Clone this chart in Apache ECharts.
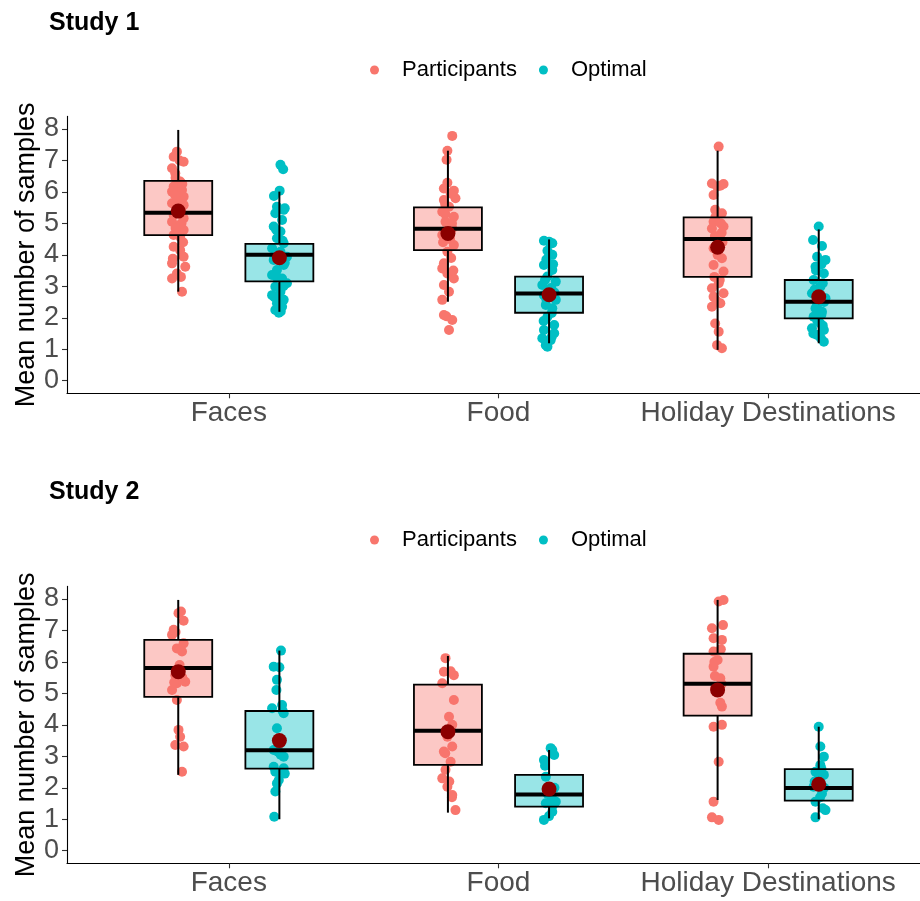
<!DOCTYPE html>
<html>
<head>
<meta charset="utf-8">
<script src="https://cdn.jsdelivr.net/npm/echarts@6/dist/echarts.min.js"></script>
<style>
html,body{margin:0;padding:0;background:#fff;}
#chart{width:920px;height:901px;}
</style>
</head>
<body>
<div id="chart"></div>
<script>
// ---------- DATA ----------
const categories = ["Faces", "Food", "Holiday Destinations"];
const groups = ["Participants", "Optimal"];
const studyTitles = ["Study 1", "Study 2"];
const yTicks = [0, 1, 2, 3, 4, 5, 6, 7, 8];
const yAxisTitle = "Mean number of samples";

// box stats per category: [lower whisker, Q1, median, Q3, upper whisker]
const s1BoxParticipants = [[2.83, 4.63, 5.34, 6.35, 7.97], [2.51, 4.15, 4.83, 5.51, 7.31], [0.98, 3.30, 4.50, 5.19, 7.31]];
const s1BoxOptimal      = [[2.19, 3.16, 4.00, 4.35, 6.01], [1.19, 2.16, 2.77, 3.31, 4.49], [1.19, 1.98, 2.51, 3.20, 4.81]];
const s2BoxParticipants = [[2.41, 4.89, 5.81, 6.70, 7.97], [1.21, 2.73, 3.81, 5.28, 6.19], [1.61, 4.29, 5.31, 6.26, 7.97]];
const s2BoxOptimal      = [[1.00, 2.61, 3.19, 4.44, 6.36], [1.03, 1.40, 1.79, 2.41, 3.20], [1.00, 1.59, 1.99, 2.59, 3.94]];

// means per category
const s1MeanParticipants = [5.39, 4.68, 4.24];
const s1MeanOptimal      = [3.91, 2.73, 2.67];
const s2MeanParticipants = [5.69, 3.78, 5.11];
const s2MeanOptimal      = [3.50, 1.96, 2.11];

// individual points: [horizontal jitter (category units), value]
const s1FacesP = [[-0.005,7.28],[-0.017,7.12],[0.02,6.96],[-0.023,6.75],[-0.011,6.59],[0.007,6.33],[-0.017,6.17],[0.014,6.06],[-0.023,6.01],[0.02,5.85],[-0.005,5.74],[-0.023,5.64],[0.02,5.58],[0.007,5.43],[-0.017,5.27],[0.02,5.16],[-0.023,5.05],[0.001,4.9],[0.02,4.79],[-0.017,4.63],[0.007,4.58],[-0.017,4.26],[0.007,4.15],[0.02,3.94],[-0.023,3.73],[0.026,3.62],[-0.005,3.41],[-0.023,3.25],[0.014,2.83],[-0.01,6.45],[0.015,6.25],[0.0,6.0],[-0.012,5.9],[0.01,5.5],[-0.008,5.35],[0.012,5.0],[-0.01,4.85],[0.018,4.4],[-0.02,3.88],[0.005,7.0],[0.01,3.3]];
const s1FacesO = [[0.004,6.86],[0.014,6.72],[0.001,6.04],[-0.009,5.53],[0.016,5.43],[-0.015,5.32],[0.01,5.11],[-0.021,4.9],[0.004,4.74],[-0.009,4.53],[0.016,4.37],[-0.027,4.21],[0.004,4.1],[0.028,3.94],[-0.021,3.84],[0.016,3.68],[-0.009,3.52],[-0.027,3.36],[0.01,3.25],[0.028,3.1],[-0.015,2.99],[0.004,2.83],[-0.027,2.72],[0.016,2.57],[-0.009,2.46],[0.01,2.35],[-0.015,2.25],[-0.002,2.16],[-0.02,5.87],[0.012,4.45],[-0.005,4.0],[0.02,3.75],[-0.01,3.3],[0.015,3.0],[-0.018,2.65],[0.005,2.2],[0.02,5.48],[-0.012,4.8]];
const s1FoodP = [[0.016,7.78],[-0.002,7.31],[-0.005,7.02],[-0.002,6.29],[-0.015,6.11],[0.022,6.04],[0.028,5.8],[-0.015,5.74],[0.004,5.53],[-0.021,5.37],[0.022,5.21],[-0.009,5.05],[0.016,4.84],[-0.021,4.63],[0.022,4.31],[-0.002,4.1],[-0.015,3.73],[-0.021,3.57],[-0.002,3.41],[0.022,3.25],[-0.015,3.04],[0.004,2.83],[-0.021,2.57],[-0.015,2.09],[0.016,1.93],[0.004,1.61],[0.01,5.95],[-0.01,5.6],[0.015,5.0],[-0.012,4.75],[0.008,4.5],[-0.018,4.4],[0.012,3.9],[-0.006,2.05],[0.02,3.5],[-0.01,5.3]];
const s1FoodO = [[-0.019,4.45],[0.012,4.37],[-0.006,4.13],[0.012,4.0],[-0.019,3.68],[0.012,3.52],[-0.006,3.31],[0.025,3.15],[-0.025,3.04],[0.006,2.88],[-0.019,2.72],[0.025,2.57],[-0.012,2.41],[0.012,2.3],[-0.006,2.03],[0.019,1.77],[-0.019,1.61],[0.019,1.51],[-0.025,1.35],[0.006,1.29],[-0.012,1.13],[-0.006,1.08],[0.0,4.42],[-0.01,3.85],[0.015,3.7],[-0.015,3.2],[0.008,2.95],[0.02,2.8],[-0.01,2.6],[0.01,2.15],[-0.02,1.9],[0.01,1.4]];
const s1HolidayP = [[0.004,7.44],[-0.021,6.27],[0.022,6.25],[-0.002,6.17],[-0.015,5.9],[-0.009,5.43],[0.016,5.32],[-0.015,5.05],[0.022,4.9],[-0.021,4.84],[0.01,4.47],[-0.015,4.21],[0.016,3.89],[-0.015,3.68],[0.022,3.47],[0.004,3.1],[-0.021,2.94],[0.022,2.78],[-0.015,2.67],[0.01,2.46],[-0.021,2.35],[-0.009,1.82],[0.004,1.56],[-0.002,1.13],[0.016,1.03],[0.01,6.2],[-0.008,5.2],[0.012,5.0],[-0.01,4.6],[0.018,4.4],[0.0,4.0],[-0.012,3.3],[0.008,3.2],[-0.005,2.55],[0.015,4.7]];
const s1HolidayO = [[0.0,4.9],[-0.021,4.47],[0.012,4.28],[-0.006,3.94],[0.025,3.84],[-0.012,3.62],[0.019,3.41],[-0.019,3.2],[0.006,2.99],[-0.025,2.78],[0.025,2.62],[-0.006,2.41],[0.012,2.19],[-0.019,2.03],[0.006,1.82],[-0.025,1.67],[0.019,1.61],[-0.006,1.45],[0.019,1.24],[0.01,3.7],[-0.01,3.5],[0.015,3.1],[-0.015,2.9],[0.0,2.7],[0.02,2.5],[-0.012,2.3],[0.01,2.1],[-0.005,1.9],[0.015,1.75],[-0.02,1.5],[0.008,1.35]];
const s2FacesP = [[0.001,7.55],[0.02,7.31],[-0.017,7.02],[-0.023,6.86],[0.02,6.59],[-0.005,6.43],[0.014,6.33],[0.007,5.69],[-0.011,5.58],[0.026,5.37],[-0.005,5.32],[-0.023,5.11],[-0.005,4.79],[0.001,3.84],[0.007,3.62],[-0.011,3.36],[0.02,3.31],[0.014,2.51],[0.01,7.6],[-0.01,6.95],[0.005,5.9],[0.015,5.5],[-0.015,5.35]];
const s2FacesO = [[0.006,6.36],[-0.021,5.85],[-0.009,5.43],[-0.011,5.11],[-0.027,4.53],[0.01,4.63],[0.016,4.37],[-0.009,3.89],[-0.021,3.2],[0.004,3.1],[0.016,2.99],[-0.021,2.67],[0.016,2.62],[-0.015,2.51],[-0.002,2.25],[-0.009,2.14],[-0.015,1.88],[-0.019,1.08],[0.0,5.83],[0.012,4.45],[-0.005,3.15],[0.02,2.45],[0.005,3.05]];
const s2FoodP = [[-0.009,6.12],[-0.015,5.69],[0.022,5.58],[-0.021,5.32],[0.022,4.79],[0.004,4.26],[0.016,4.0],[-0.002,3.62],[0.016,3.31],[-0.015,3.15],[0.01,2.83],[-0.009,2.57],[-0.021,2.3],[-0.002,2.03],[0.016,1.77],[0.028,1.29],[0.01,5.7],[-0.01,3.1],[0.005,2.2],[0.015,1.7]];
const s2FoodO = [[0.006,3.26],[0.019,3.04],[-0.019,2.88],[-0.012,2.35],[0.006,1.98],[0.025,1.56],[-0.012,1.51],[0.012,1.24],[-0.019,0.98],[0.012,3.2],[-0.015,2.7],[0.02,2.0],[0.01,1.7],[-0.005,1.8],[0.015,1.45],[0.0,1.1]];
const s2HolidayP = [[0.004,7.92],[0.022,7.97],[-0.021,7.07],[0.02,7.17],[-0.015,6.75],[0.016,6.7],[-0.015,6.33],[0.0,6.06],[-0.015,5.85],[0.01,5.48],[-0.009,5.16],[0.016,4.58],[-0.015,3.94],[0.016,4.0],[0.004,2.83],[-0.015,1.56],[-0.021,1.06],[0.004,0.98],[0.012,6.4],[-0.01,5.55],[0.015,5.3],[-0.005,5.05],[0.01,4.7],[-0.012,6.0]];
const s2HolidayO = [[0.0,3.94],[0.006,3.31],[0.019,2.99],[0.006,2.72],[-0.012,2.51],[0.019,2.41],[-0.019,2.03],[0.012,1.82],[-0.012,1.56],[0.025,1.29],[-0.012,1.06],[0.01,2.6],[-0.015,2.2],[0.02,2.0],[0.005,1.7],[0.015,1.35],[0.0,2.3]];

// ---------- STYLE ----------
const pointColors = ["#F8766D", "#00BFC4"];
const boxFills = ["rgba(248,118,109,0.4)", "rgba(0,191,196,0.4)"];
const meanColor = "#8B0000";
const dodge = [-0.1875, 0.1875];
const boxHalf = 0.126;
const FONT = "Liberation Sans, Arial, sans-serif";

const studies = [
  { box: [s1BoxParticipants, s1BoxOptimal], mean: [s1MeanParticipants, s1MeanOptimal],
    pts: [[s1FacesP, s1FoodP, s1HolidayP], [s1FacesO, s1FoodO, s1HolidayO]] },
  { box: [s2BoxParticipants, s2BoxOptimal], mean: [s2MeanParticipants, s2MeanOptimal],
    pts: [[s2FacesP, s2FoodP, s2HolidayP], [s2FacesO, s2FoodO, s2HolidayO]] }
];

const gridTops = [116.4, 586.4];
const gridH = 276.9;

const grids = [], xAxes = [], yAxes = [], series = [], titles = [], legends = [];

studies.forEach((st, si) => {
  grids.push({ left: 67, right: 0, top: gridTops[si], height: gridH, containLabel: false });
  xAxes.push({
    type: 'value', gridIndex: si, min: 0.4, max: 3.563,
    splitLine: { show: false },
    axisLine: { show: true, onZero: false, lineStyle: { color: '#000', width: 1.1 } },
    axisTick: { show: true, customValues: [1, 2, 3], length: 5, lineStyle: { color: '#333', width: 1.1 } },
    axisLabel: { customValues: [1, 2, 3], formatter: v => categories[Math.round(v) - 1] || '',
      fontSize: 28, color: '#4D4D4D', fontFamily: FONT, margin: 6 }
  });
  yAxes.push({
    type: 'value', gridIndex: si, min: -0.4, max: 8.4,
    splitLine: { show: false },
    axisLine: { show: true, onZero: false, lineStyle: { color: '#000', width: 1.1 } },
    axisTick: { show: true, customValues: yTicks, length: 5, lineStyle: { color: '#333', width: 1.1 } },
    axisLabel: { customValues: yTicks, fontSize: 27, color: '#4D4D4D', fontFamily: FONT, margin: 8 },
    name: yAxisTitle, nameLocation: 'middle', nameGap: 27, nameRotate: 90, nameMoveOverlap: false,
    nameTextStyle: { fontSize: 27, color: '#000', fontFamily: FONT }
  });
  titles.push({ text: studyTitles[si], left: 44, top: si === 0 ? 6 : 475,
    textStyle: { fontSize: 25, fontWeight: 'bold', color: '#000', fontFamily: FONT } });
  legends.push({ data: groups, left: 370, top: si === 0 ? 59 : 529, padding: 0,
    icon: 'circle', itemWidth: 9, itemHeight: 9, itemGap: 22, selectedMode: false,
    textStyle: { fontSize: 22, color: '#000', fontFamily: FONT, padding: [0, 0, 0, 18] } });

  groups.forEach((g, gi) => {
    const pts = [];
    st.pts[gi].forEach((arr, ci) => {
      arr.forEach(p => pts.push([ci + 1 + dodge[gi] + p[0], p[1]]));
    });
    series.push({
      name: g, type: 'scatter', xAxisIndex: si, yAxisIndex: si, z: 2,
      symbol: 'circle', symbolSize: 10, data: pts, silent: true,
      itemStyle: { color: pointColors[gi], opacity: 1 }
    });
    const boxData = st.box[gi].map((b, ci) => [ci + 1 + dodge[gi]].concat(b));
    series.push({
      name: 'box_' + si + '_' + gi, type: 'custom', xAxisIndex: si, yAxisIndex: si, z: 3,
      silent: true, data: boxData,
      encode: { x: 0, y: [1, 2, 3, 4, 5] },
      renderItem: (params, api) => {
        const x = api.value(0);
        const lo = api.value(1), q1 = api.value(2), med = api.value(3), q3 = api.value(4), hi = api.value(5);
        const pL = api.coord([x - boxHalf, q3]);
        const pR = api.coord([x + boxHalf, q1]);
        const pMedL = api.coord([x - boxHalf, med]);
        const pMedR = api.coord([x + boxHalf, med]);
        const pHi = api.coord([x, hi]);
        const pQ3 = api.coord([x, q3]);
        const pQ1 = api.coord([x, q1]);
        const pLo = api.coord([x, lo]);
        const blk = '#000';
        return {
          type: 'group',
          children: [
            { type: 'line', shape: { x1: pHi[0], y1: pHi[1], x2: pQ3[0], y2: pQ3[1] }, style: { stroke: blk, lineWidth: 2 } },
            { type: 'line', shape: { x1: pQ1[0], y1: pQ1[1], x2: pLo[0], y2: pLo[1] }, style: { stroke: blk, lineWidth: 2 } },
            { type: 'rect', shape: { x: pL[0], y: pL[1], width: pR[0] - pL[0], height: pR[1] - pL[1] },
              style: { fill: boxFills[gi], stroke: blk, lineWidth: 1.8 } },
            { type: 'line', shape: { x1: pMedL[0], y1: pMedL[1], x2: pMedR[0], y2: pMedR[1] }, style: { stroke: blk, lineWidth: 4 } }
          ]
        };
      }
    });
    series.push({
      name: 'mean_' + si + '_' + gi, type: 'scatter', xAxisIndex: si, yAxisIndex: si, z: 4,
      symbol: 'circle', symbolSize: 15, silent: true,
      data: st.mean[gi].map((m, ci) => [ci + 1 + dodge[gi], m]),
      itemStyle: { color: meanColor, opacity: 1 }
    });
  });
});

const chart = echarts.init(document.getElementById('chart'), null, { renderer: 'canvas' });
chart.setOption({
  backgroundColor: '#fff',
  animation: false,
  title: titles,
  legend: legends,
  grid: grids,
  xAxis: xAxes,
  yAxis: yAxes,
  series: series
});
</script>
</body>
</html>
